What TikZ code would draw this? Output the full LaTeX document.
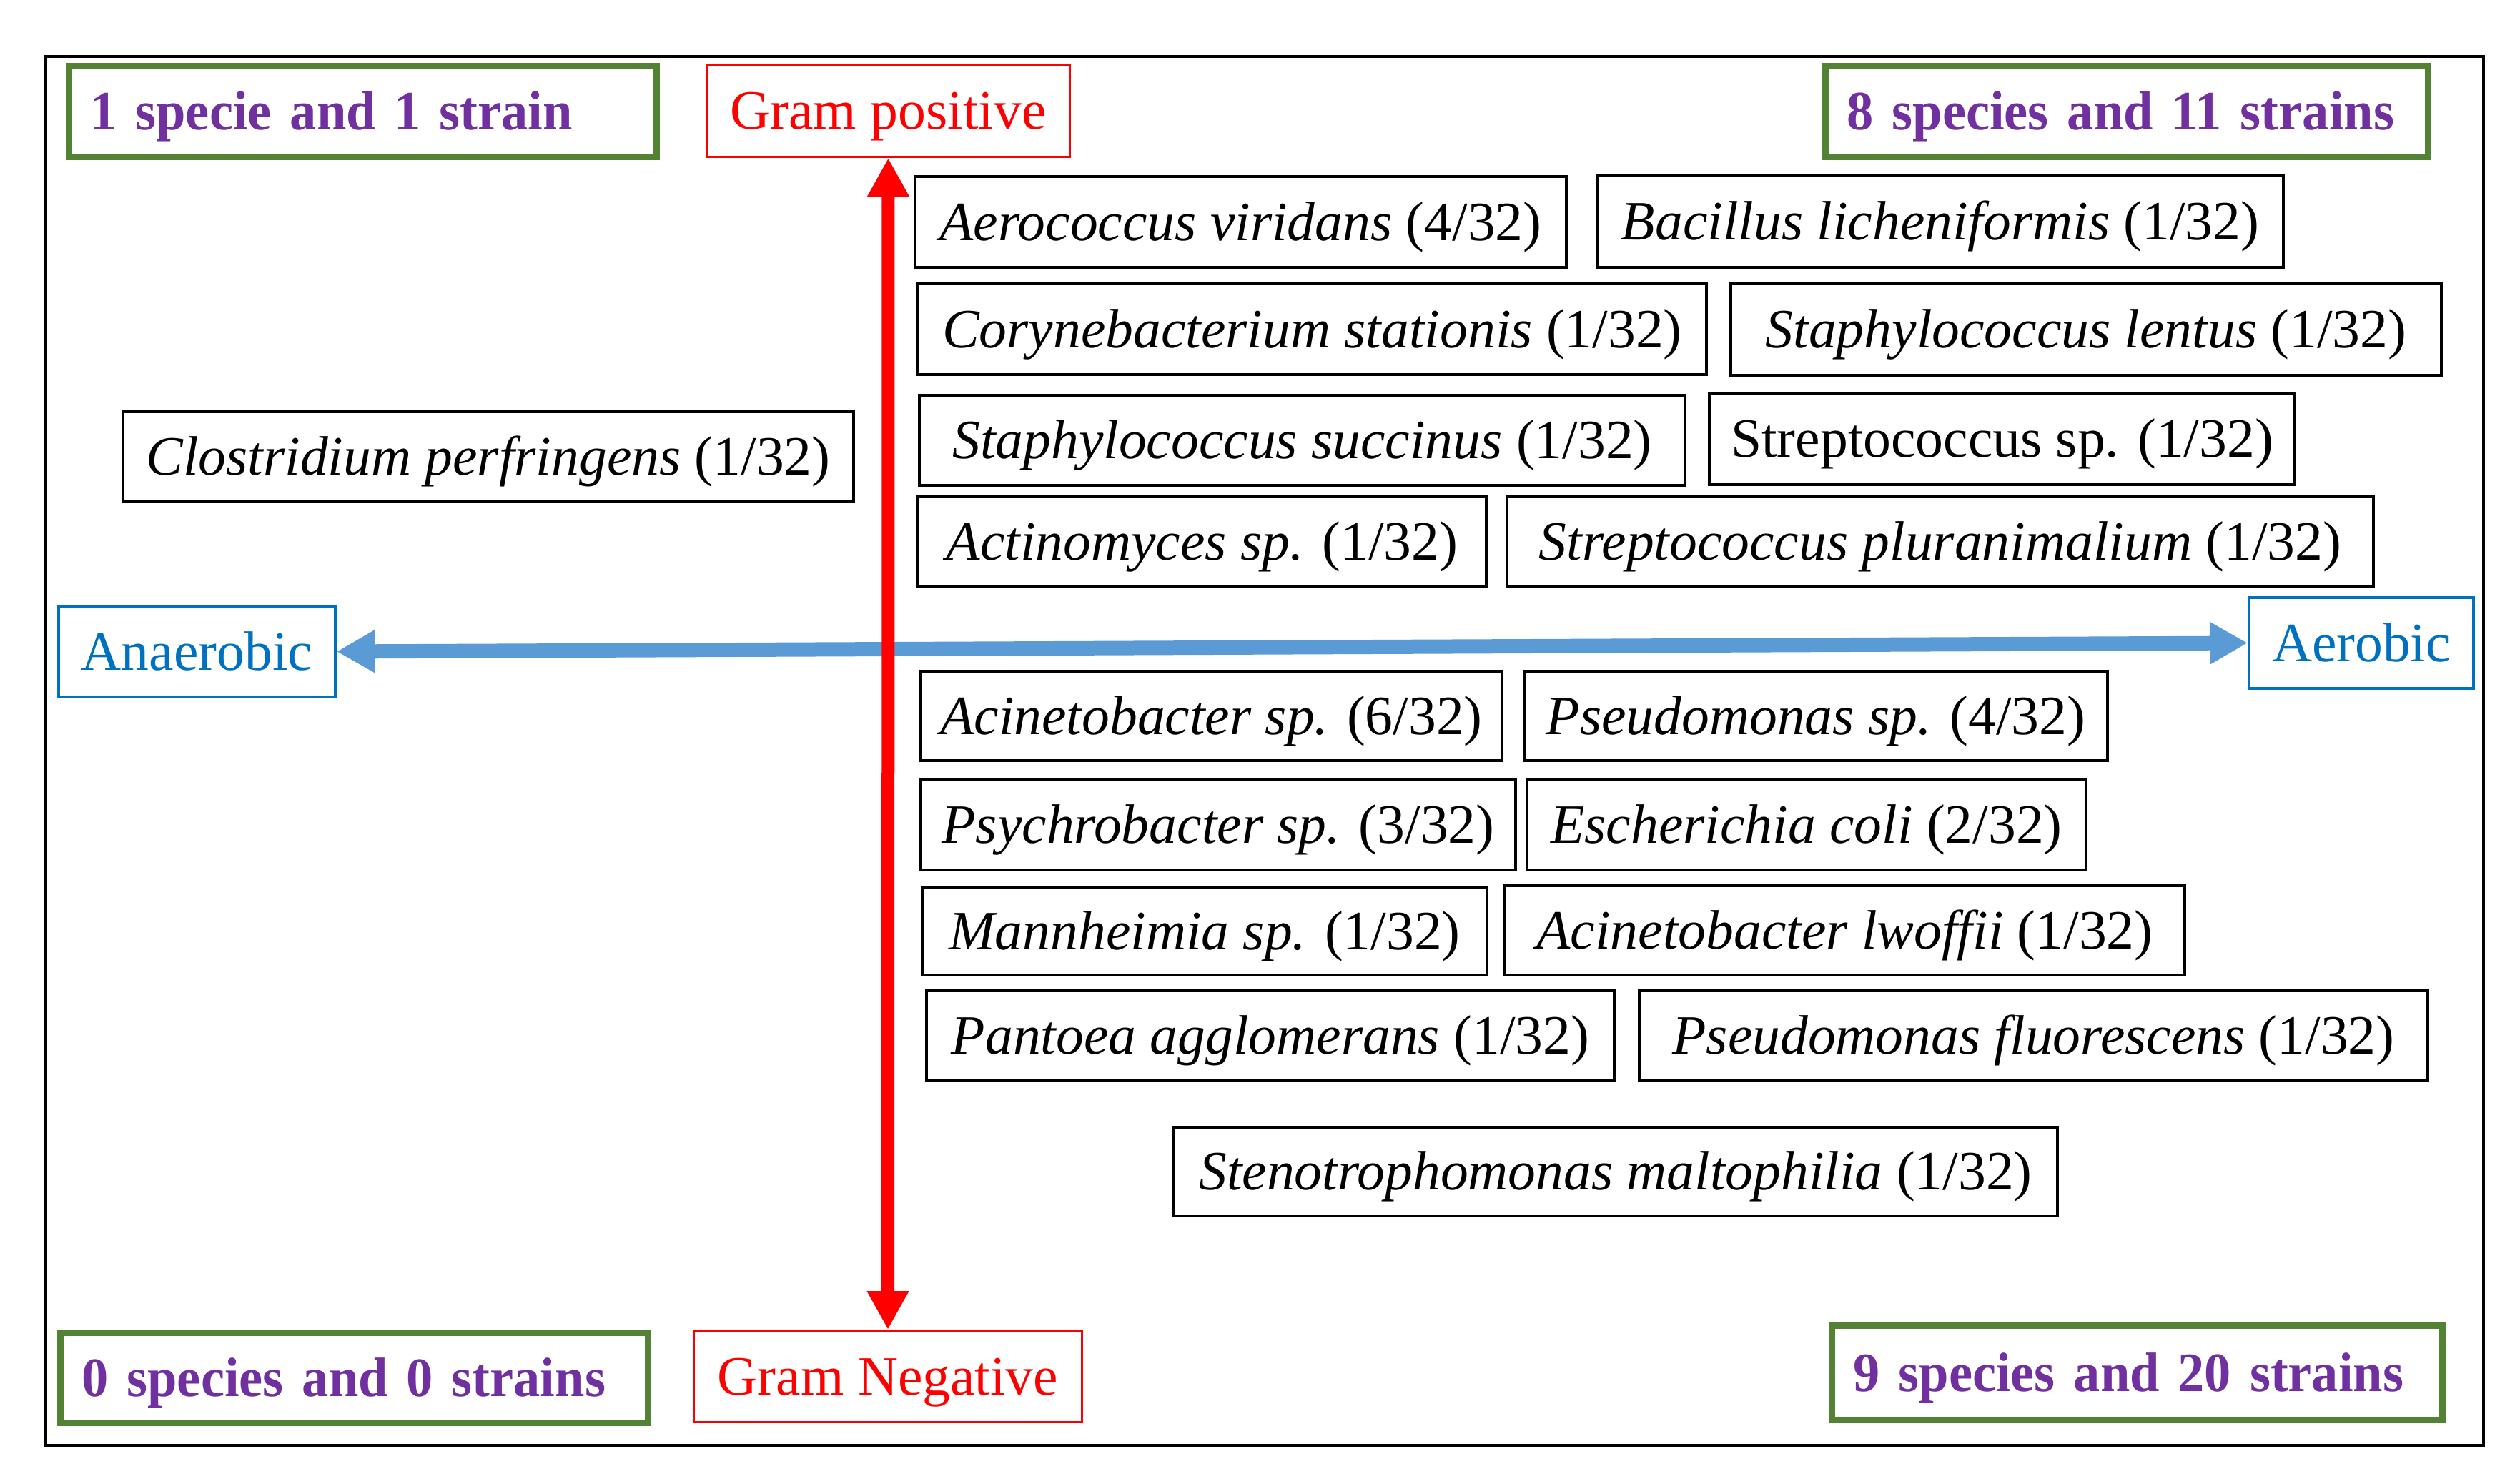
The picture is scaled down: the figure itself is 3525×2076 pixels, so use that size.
\documentclass[tikz,border=0pt]{standalone}
\usepackage{fontspec}
\setmainfont{Liberation Serif}[BoldFeatures={FakeStretch=0.96}]
\usetikzlibrary{arrows.meta}
\definecolor{mygreen}{HTML}{548235}
\definecolor{mypurple}{HTML}{7030A0}
\definecolor{myblue}{HTML}{0070C0}
\definecolor{arrowblue}{HTML}{5B9BD5}
\newcommand\myfs{\fontsize{19.4}{23}\selectfont}
\begin{document}
\begin{tikzpicture}[x=0.25pt,y=-0.25pt,
  every node/.style={inner sep=0pt, text height=12.8pt, text depth=0pt, font=\myfs},
  spbox/.style={draw=black, line width=1pt, font=\myfs},
  grnbox/.style={draw=mygreen, line width=2.25pt, text=mypurple, font=\myfs\bfseries, align=left, inner xsep=7.5pt},
  redbox/.style={draw=red, line width=0.75pt, text=red, font=\myfs},
  bluebox/.style={draw=myblue, line width=1pt, text=myblue, font=\myfs},
  redarrow/.style={draw=red, line width=4.5pt, {Triangle[width=13.75pt,length=13.5pt]}-{Triangle[width=13.75pt,length=13.5pt]}},
  bluearrow/.style={draw=arrowblue, line width=5pt, {Triangle[width=14pt,length=13.25pt]}-{Triangle[width=14pt,length=13.25pt]}}
]
\useasboundingbox (0,0) rectangle (3525,2076);
\draw[line width=0.9pt] (64,79) rectangle (3474,2022);

% corner summary boxes
\node[grnbox, text width=190.5pt, minimum height=31.75pt] (g1) at (507.5,156) {1 specie and 1 strain};
\node[grnbox, text width=195.75pt, minimum height=31.75pt] (g2) at (2975,156) {8 species and 11 strains};
\node[grnbox, text width=190.5pt, minimum height=31.5pt] (g0) at (495.5,1927.5) {0 species and 0 strains};
\node[grnbox, text width=198.5pt, minimum height=33pt] (g9) at (2989.5,1920.5) {9 species and 20 strains};

% axis labels
\node[redbox, minimum width=127pt, minimum height=32.25pt] (gp) at (1242.5,155) {Gram positive};
\node[redbox, minimum width=135.75pt, minimum height=32pt] (gn) at (1242,1925.5) {Gram Negative};
\node[bluebox, minimum width=96.75pt, minimum height=31.75pt] (anaer) at (275.5,911.5) {Anaerobic};
\node[bluebox, minimum width=78.5pt, minimum height=31.75pt] (aerob) at (3303,899.5) {Aerobic};

% gram positive species
\node[spbox, minimum width=227.75pt, minimum height=31.75pt] (aero) at (1735.5,310.5) {\textit{Aerococcus viridans} (4/32)};
\node[spbox, minimum width=240pt, minimum height=32pt] (bac) at (2714,310) {\textit{Bacillus licheniformis} (1/32)};
\node[spbox, minimum width=275.75pt, minimum height=31.75pt] (cory) at (1835.5,460.5) {\textit{Corynebacterium stationis} (1/32)};
\node[spbox, minimum width=248.5pt, minimum height=32pt] (slen) at (2918,461) {\textit{Staphylococcus lentus} (1/32)};
\node[spbox, minimum width=267.75pt, minimum height=31.5pt] (ssuc) at (1821.5,616) {\textit{Staphylococcus succinus} (1/32)};
\node[spbox, minimum width=204.75pt, minimum height=32pt] (strsp) at (2800.5,614) {Streptococcus sp. (1/32)};
\node[spbox, minimum width=198.75pt, minimum height=31.5pt] (actin) at (1681.5,758) {\textit{Actinomyces sp.} (1/32)};
\node[spbox, minimum width=303pt, minimum height=31.75pt] (splur) at (2714,757.5) {\textit{Streptococcus pluranimalium} (1/32)};
\node[spbox, minimum width=255.5pt, minimum height=31.25pt] (clos) at (683,638.5) {\textit{Clostridium perfringens} (1/32)};

% gram negative species
\node[spbox, minimum width=203.25pt, minimum height=31.25pt] (acsp) at (1694.5,1001.5) {\textit{Acinetobacter sp.} (6/32)};
\node[spbox, minimum width=204pt, minimum height=31.25pt] (pssp) at (2540,1001.5) {\textit{Pseudomonas sp.} (4/32)};
\node[spbox, minimum width=208pt, minimum height=31.5pt] (psych) at (1704,1154) {\textit{Psychrobacter sp.} (3/32)};
\node[spbox, minimum width=195.5pt, minimum height=31.5pt] (ecoli) at (2527,1154) {\textit{Escherichia coli} (2/32)};
\node[spbox, minimum width=197.5pt, minimum height=30.75pt] (mann) at (1685,1302.5) {\textit{Mannheimia sp.} (1/32)};
\node[spbox, minimum width=237.75pt, minimum height=31.25pt] (lwof) at (2580.5,1301.5) {\textit{Acinetobacter lwoffii} (1/32)};
\node[spbox, minimum width=240.5pt, minimum height=31.25pt] (pant) at (1777,1448.5) {\textit{Pantoea agglomerans} (1/32)};
\node[spbox, minimum width=275.75pt, minimum height=31.25pt] (pflu) at (2844.5,1448.5) {\textit{Pseudomonas fluorescens} (1/32)};
\node[spbox, minimum width=309pt, minimum height=31pt] (steno) at (2260,1639) {\textit{Stenotrophomonas maltophilia} (1/32)};

% axes
\draw[bluearrow] (anaer.east) -- (aerob.west);
\draw[redarrow] (gp.south) -- (gn.north);
\end{tikzpicture}
\end{document}
